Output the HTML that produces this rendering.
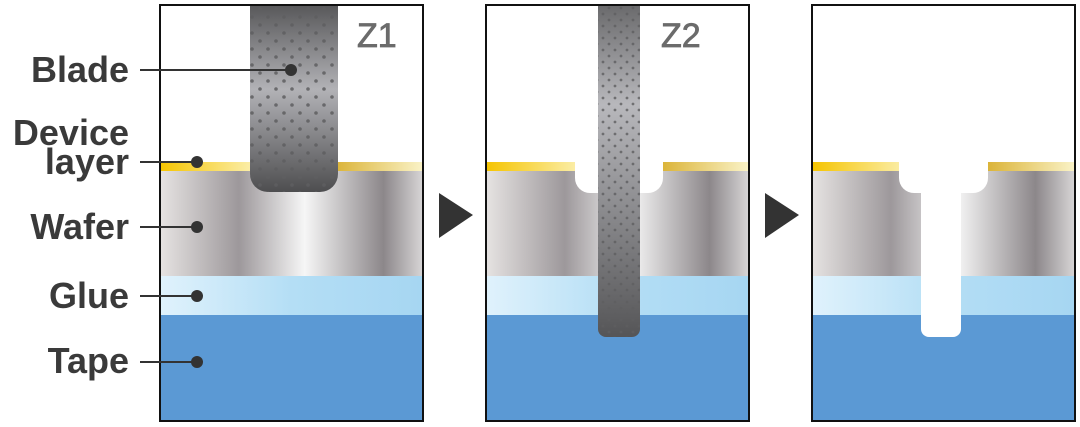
<!DOCTYPE html>
<html><head><meta charset="utf-8"><style>html,body{margin:0;padding:0;background:#fff}svg{display:block}</style></head><body>
<svg width="1080" height="427" viewBox="0 0 1080 427" xmlns="http://www.w3.org/2000/svg">
<defs>
<linearGradient id="wafer" x1="0" x2="1" y1="0" y2="0">
<stop offset="0" stop-color="#e6e3e2"/><stop offset="0.3" stop-color="#9d989b"/><stop offset="0.55" stop-color="#f6f6f6"/><stop offset="0.85" stop-color="#8c878a"/><stop offset="1" stop-color="#d8d6d7"/>
</linearGradient>
<linearGradient id="gold" x1="0" x2="1"><stop offset="0" stop-color="#f5c400"/><stop offset="0.35" stop-color="#fbeeaa"/><stop offset="0.65" stop-color="#d9b030"/><stop offset="1" stop-color="#faf3c8"/></linearGradient>
<linearGradient id="glue" x1="0" x2="1"><stop offset="0" stop-color="#e0f2fc"/><stop offset="0.5" stop-color="#b4def5"/><stop offset="1" stop-color="#a6d6f2"/></linearGradient>
<linearGradient id="blade" x1="0" x2="0" y1="0" y2="1"><stop offset="0" stop-color="#58585a"/><stop offset="0.45" stop-color="#b2b2b6"/><stop offset="1" stop-color="#4e4e50"/></linearGradient>
<linearGradient id="blade2" x1="0" x2="0" y1="0" y2="1"><stop offset="0" stop-color="#6a6a6c"/><stop offset="0.3" stop-color="#b8b8bc"/><stop offset="1" stop-color="#555557"/></linearGradient>
<pattern id="dots" width="16" height="16" patternUnits="userSpaceOnUse"><circle cx="4" cy="4" r="1.8" fill="#5e5e60"/><circle cx="12" cy="12" r="1.8" fill="#5e5e60"/></pattern>
<pattern id="dots2" width="12" height="12" patternUnits="userSpaceOnUse"><circle cx="3" cy="3" r="1.4" fill="#5e5e60"/><circle cx="9" cy="9" r="1.4" fill="#5e5e60"/></pattern>
<g id="layers">
<rect x="0" y="157" width="263" height="9" fill="url(#gold)"/>
<rect x="0" y="166" width="263" height="105" fill="url(#wafer)"/>
<rect x="0" y="271" width="263" height="39" fill="url(#glue)"/>
<rect x="0" y="310" width="263" height="107" fill="#5b99d4"/>
</g>
</defs>
<g transform="translate(160,5)">
<use href="#layers"/>
<path d="M90 0 H178 V169 a18 18 0 0 1 -18 18 H108 a18 18 0 0 1 -18 -18 Z" fill="url(#blade)"/>
<path d="M90 0 H178 V169 a18 18 0 0 1 -18 18 H108 a18 18 0 0 1 -18 -18 Z" fill="url(#dots)" opacity="0.85"/>
<text x="197" y="42" font-family="Liberation Sans, sans-serif" font-size="34" fill="#6b6b6b" stroke="#6b6b6b" stroke-width="0.8">Z1</text>
<rect x="0" y="0" width="263" height="416" fill="none" stroke="#111" stroke-width="2"/>
</g>
<g transform="translate(486,5)">
<use href="#layers"/>
<path d="M89 150 V173 a15 15 0 0 0 15 15 H162 a15 15 0 0 0 15 -15 V150 Z" fill="#fff"/>
<path d="M112 0 H154 V324 a8 8 0 0 1 -8 8 H120 a8 8 0 0 1 -8 -8 Z" fill="url(#blade2)"/>
<path d="M112 0 H154 V324 a8 8 0 0 1 -8 8 H120 a8 8 0 0 1 -8 -8 Z" fill="url(#dots2)" opacity="0.8"/>
<text x="175" y="42" font-family="Liberation Sans, sans-serif" font-size="34" fill="#6b6b6b" stroke="#6b6b6b" stroke-width="0.8">Z2</text>
<rect x="0" y="0" width="263" height="416" fill="none" stroke="#111" stroke-width="2"/>
</g>
<g transform="translate(812,5)">
<use href="#layers"/>
<path d="M87 150 V173 a15 15 0 0 0 15 15 H161 a15 15 0 0 0 15 -15 V150 Z" fill="#fff"/>
<path d="M109 180 H149 V324 a8 8 0 0 1 -8 8 H117 a8 8 0 0 1 -8 -8 Z" fill="#fff"/>
<rect x="0" y="0" width="263" height="416" fill="none" stroke="#111" stroke-width="2"/>
</g>
<polygon points="439,193 473,215 439,238" fill="#333"/>
<polygon points="765,193 799,215 765,238" fill="#333"/>
<g font-family="Liberation Sans, sans-serif" font-weight="bold" font-size="36" fill="#3a3a3a" text-anchor="end">
<text x="129" y="82">Blade</text>
<text x="129" y="145">Device</text>
<text x="129" y="174">layer</text>
<text x="129" y="239">Wafer</text>
<text x="129" y="308">Glue</text>
<text x="129" y="373">Tape</text>
</g>
<g stroke="#333" stroke-width="2">
<line x1="140" y1="70" x2="291" y2="70"/>
<line x1="140" y1="162" x2="197" y2="162"/>
<line x1="140" y1="227" x2="197" y2="227"/>
<line x1="140" y1="296" x2="197" y2="296"/>
<line x1="140" y1="362" x2="197" y2="362"/>
</g>
<g fill="#333">
<circle cx="291" cy="70" r="6"/>
<circle cx="197" cy="162" r="6"/>
<circle cx="197" cy="227" r="6"/>
<circle cx="197" cy="296" r="6"/>
<circle cx="197" cy="362" r="6"/>
</g>
</svg>
</body></html>
